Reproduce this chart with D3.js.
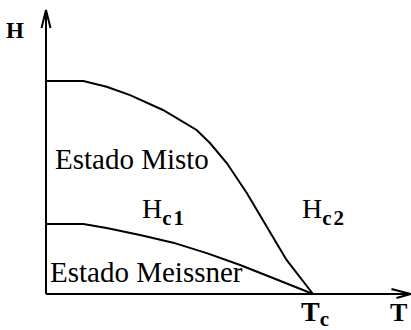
<!DOCTYPE html>
<html>
<head>
<meta charset="utf-8">
<script src="https://cdn.jsdelivr.net/npm/d3@7"></script>
</head>
<body style="margin:0">
<div id="chart"></div>
<script>
// critical fields, T in units of Tc, H in units of Hc2(0)
const hc2T = [0, 0.14, 0.227, 0.315, 0.438, 0.564, 0.614, 0.677, 0.752, 0.827, 0.901, 1.0];
const hc2H = [1.0, 1.0, 0.973, 0.934, 0.864, 0.770, 0.709, 0.615, 0.474, 0.316, 0.160, 0];
const hc1T = [0, 0.14, 0.227, 0.352, 0.476, 0.602, 0.727, 0.850, 1.0];
const hc1H = [0.329, 0.329, 0.310, 0.277, 0.241, 0.192, 0.136, 0.075, 0];

const w = 411;
const h = 330;

const svg = d3.select("#chart").append("svg")
    .attr("width", w)
    .attr("height", h);

const x = d3.scaleLinear().domain([0, 1]).range([46, 313]);
const y = d3.scaleLinear().domain([0, 1]).range([294, 81]);

const tMax = 1.365;
const hMax = 1.333;

const line = d3.line()
    .x(d => x(d[0]))
    .y(d => y(d[1]));

// axes with open arrow heads
svg.append("path")
    .attr("d", `M${x(0)},${y(0)}H${x(tMax)}M${x(tMax) - 19},${y(0) - 5}L${x(tMax)},${y(0)}L${x(tMax) - 14},${y(0) + 4}`)
    .attr("fill", "none")
    .attr("stroke", "#000")
    .attr("stroke-width", 2);

svg.append("path")
    .attr("d", `M${x(0)},${y(0)}V${y(hMax)}M${x(0) - 4.5},${y(hMax) + 18}L${x(0)},${y(hMax)}L${x(0) + 4.5},${y(hMax) + 18}`)
    .attr("fill", "none")
    .attr("stroke", "#000")
    .attr("stroke-width", 2);

// Hc2 and Hc1 curves
svg.append("path")
    .datum(d3.zip(hc2T, hc2H))
    .attr("d", line)
    .attr("fill", "none")
    .attr("stroke", "#000")
    .attr("stroke-width", 2);

svg.append("path")
    .datum(d3.zip(hc1T, hc1H))
    .attr("d", line)
    .attr("fill", "none")
    .attr("stroke", "#000")
    .attr("stroke-width", 2);

// labels
function label(px, py, size, txt, bold) {
    const t = svg.append("text").attr("x", px).attr("y", py)
        .attr("font-size", size)
        .style("font-family", '"Liberation Serif"');
    if (bold) t.attr("font-weight", "bold");
    if (txt) t.text(txt);
    return t;
}

label(6, 38, 23, "H", true);
label(390, 321, 26, "T", true);
label(55, 169, 29, "Estado Misto", false);
label(50, 282, 29, "Estado Meissner", false);

function sub(px, py, main, s, bold, drop) {
    const t = label(px, py, 28, null, bold);
    t.append("tspan").text(main);
    t.append("tspan").attr("dy", drop)
        .attr("font-size", 21)
        .attr("font-weight", "bold")
        .attr("letter-spacing", 2)
        .text(s);
}

sub(142, 218, "H", "c1", false, 7);
sub(302, 218, "H", "c2", false, 7);
sub(301, 321, "T", "c", true, 5);
</script>
</body>
</html>
